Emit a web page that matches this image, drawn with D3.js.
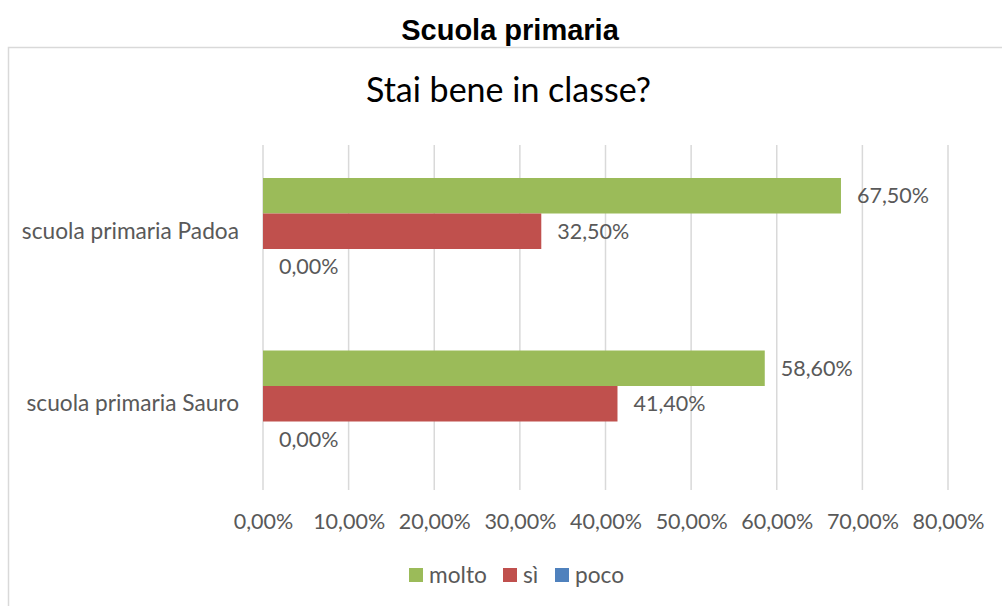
<!DOCTYPE html>
<html><head><meta charset="utf-8">
<script src="https://cdn.jsdelivr.net/npm/d3@7"></script>
<style>body{margin:0;background:#fff;} svg{display:block;}</style>
</head><body>
<svg id="c" width="1002" height="606"></svg>
<script>
const categories = ["scuola primaria Padoa", "scuola primaria Sauro"];
const seriesNames = ["molto", "sì", "poco"];
const molto = [0.675, 0.586];
const si = [0.325, 0.414];
const poco = [0.0, 0.0];
const tickValues = [0, 0.1, 0.2, 0.3, 0.4, 0.5, 0.6, 0.7, 0.8];
const colors = ["#9BBB59", "#C0504D", "#4F81BD"];

const values = [molto, si, poco];
const fmt = v => (v*100).toFixed(2).replace(".", ",") + "%";
const font = "Lato, 'Open Sans', sans-serif";
const txt = "#595959";

const svg = d3.select("#c");
svg.append("text").attr("x", 510).attr("y", 40).attr("text-anchor", "middle")
  .attr("font-family", "'Liberation Sans', Arial, sans-serif").attr("font-weight", "bold")
  .attr("font-size", 29).attr("fill", "#000").text("Scuola primaria");

svg.append("rect").attr("x", 8.5).attr("y", 47.5).attr("width", 1100).attr("height", 700)
  .attr("fill", "none").attr("stroke", "#D9D9D9").attr("stroke-width", 1.5);

svg.append("text").attr("x", 508.5).attr("y", 102).attr("text-anchor", "middle")
  .attr("font-family", font).attr("font-size", 34).attr("fill", "#000").text("Stai bene in classe?");

const x = d3.scaleLinear().domain([0, 0.8]).range([263, 948]);
const y = d3.scaleBand().domain(categories).range([145, 490]).paddingInner(0).paddingOuter(0);
const yInner = d3.scaleBand().domain(seriesNames).range([0, 106.5]);

const g = svg.append("g");
g.selectAll("line.grid").data(tickValues).join("line")
  .attr("x1", d => x(d)).attr("x2", d => x(d)).attr("y1", 145).attr("y2", 490)
  .attr("stroke", "#D9D9D9").attr("stroke-width", 1.5);

const xAxis = d3.axisBottom(x).tickValues(tickValues).tickFormat(fmt).tickSize(0).tickPadding(0);
const ax = svg.append("g").attr("transform", "translate(0,529)").call(xAxis);
ax.select(".domain").remove();
ax.selectAll("text").attr("font-family", font).attr("font-size", 21.5).attr("fill", txt).attr("dy", 0);

const yAxis = d3.axisLeft(y).tickSize(0).tickPadding(24);
const ay = svg.append("g").attr("transform", "translate(263,0)").call(yAxis);
ay.select(".domain").remove();
ay.selectAll("text").attr("font-family", font).attr("font-size", 22.7).attr("fill", txt);

seriesNames.forEach((s, si_) => {
  const off = (y.bandwidth() - 106.5) / 2;
  const grp = svg.append("g");
  grp.selectAll("rect").data(categories).join("rect")
    .attr("x", x(0))
    .attr("y", (c) => y(c) + off + yInner(s))
    .attr("width", (c, i) => x(values[si_][i]) - x(0))
    .attr("height", yInner.bandwidth())
    .attr("fill", colors[si_]);
  grp.selectAll("text").data(categories).join("text")
    .attr("x", (c, i) => x(values[si_][i]) + 16)
    .attr("y", (c) => y(c) + off + yInner(s) + yInner.bandwidth()/2)
    .attr("dy", "0.35em")
    .attr("font-family", font).attr("font-size", 21.5).attr("fill", txt)
    .text((c, i) => fmt(values[si_][i]));
});

const legX = [409, 503, 555];
const leg = svg.append("g");
seriesNames.forEach((s, i) => {
  leg.append("rect").attr("x", legX[i]).attr("y", 568).attr("width", 14).attr("height", 14).attr("fill", colors[i]);
  leg.append("text").attr("x", legX[i] + 20).attr("y", 575).attr("dy", "0.35em")
    .attr("font-family", font).attr("font-size", 22.7).attr("fill", txt).text(s);
});
</script>
</body></html>
